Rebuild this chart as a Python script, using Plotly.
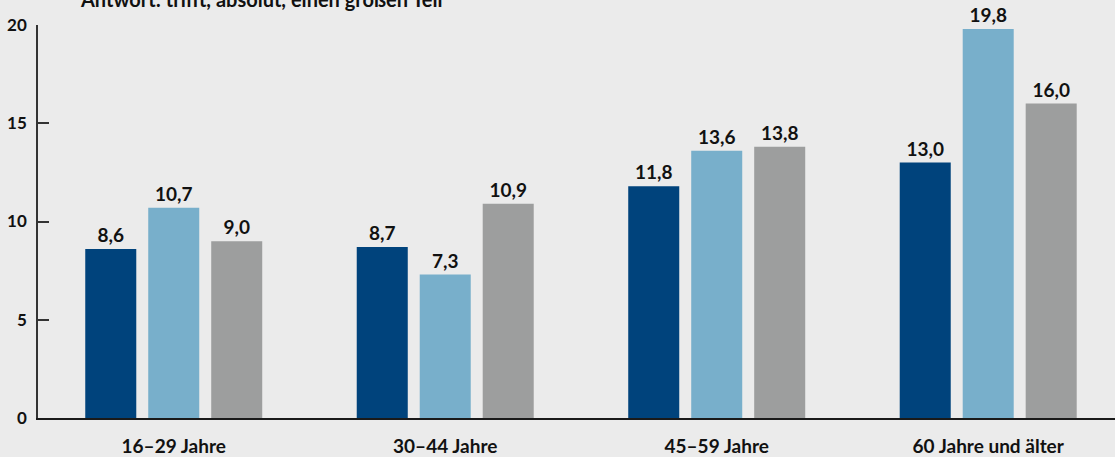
import plotly.graph_objects as go

categories = ["16–29 Jahre", "30–44 Jahre", "45–59 Jahre", "60 Jahre und älter"]
series_names = ["Gruppe A", "Gruppe B", "Gruppe C"]
values_a = [8.6, 8.7, 11.8, 13.0]
values_b = [10.7, 7.3, 13.6, 19.8]
values_c = [9.0, 10.9, 13.8, 16.0]
y_ticks = [0, 5, 10, 15, 20]
subtitle = "Antwort: trifft, absolut, einen großen Teil"

colors = ["#00437C", "#78AFCB", "#9D9E9E"]
bg = "#EBEBEB"
font_family = "Lato, 'Open Sans', sans-serif"

fig = go.Figure()
for name, vals, col in zip(series_names, [values_a, values_b, values_c], colors):
    fig.add_trace(go.Bar(
        x=categories, y=vals, name=name,
        marker=dict(color=col, line=dict(width=0)),
        text=[f"{v:.1f}".replace(".", ",") for v in vals],
        textposition="outside",
        textfont=dict(family=font_family, size=19, color="#111111", weight="bold"),
        cliponaxis=False,
    ))

fig.update_layout(
    width=1115, height=457,
    paper_bgcolor=bg, plot_bgcolor=bg,
    margin=dict(l=38, r=0, t=25, b=37),
    barmode="group", bargap=0.304, bargroupgap=0.19,
    showlegend=False,
    font=dict(family=font_family, color="#111111"),
)
fig.update_xaxes(
    range=[-0.5, 3.467],
    showline=True, linecolor="#1a1a1a", linewidth=1.5,
    showgrid=False, zeroline=False,
    ticks="", ticklabelstandoff=10,
    tickfont=dict(family=font_family, size=19, color="#111111", weight="bold"),
)
fig.update_yaxes(
    range=[0, 20], tickvals=y_ticks,
    showline=True, linecolor="#333333", linewidth=1.5,
    showgrid=False, zeroline=False,
    ticks="inside", ticklen=11, tickwidth=1.5, tickcolor="#333333",
    ticklabelstandoff=6,
    tickfont=dict(family=font_family, size=17, color="#111111", weight="bold"),
)
fig.add_annotation(
    text=subtitle, xref="paper", yref="paper", x=0.037, y=1.03,
    xanchor="left", yanchor="bottom", showarrow=False,
    font=dict(family=font_family, size=20, color="#111111", weight="bold"),
)

fig.write_html(
    "out.html",
    config={"displayModeBar": False},
    post_script="document.body.style.margin='0';document.body.style.overflow='hidden';",
)
